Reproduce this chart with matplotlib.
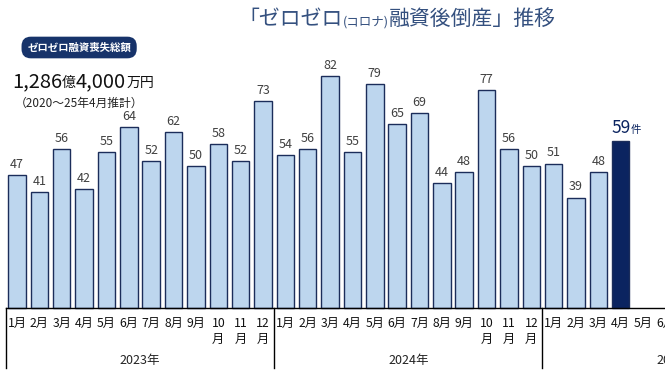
import matplotlib
matplotlib.use("Agg")
import matplotlib.pyplot as plt

plt.rcParams['font.family'] = ['Noto Sans CJK JP', 'DejaVu Sans']

# data
years = ["2023年", "2024年", "2025年"]
month_labels = ["1月", "2月", "3月", "4月", "5月", "6月", "7月", "8月", "9月",
                "10\n月", "11\n月", "12\n月"]
counts_2023 = [47, 41, 56, 42, 55, 64, 52, 62, 50, 58, 52, 73]
counts_2024 = [54, 56, 82, 55, 79, 65, 69, 44, 48, 77, 56, 50]
counts_2025 = [51, 39, 48, 59]
title_main = "「ゼロゼロ"
title_small = "(コロナ)"
title_rest = "融資後倒産」推移"
box_label = "ゼロゼロ融資喪失総額"
total_parts = [("1,286", 14.5), ("億", 10), ("4,000", 14.5), ("万円", 10)]
total_note = "（2020～25年4月推計）"

light = "#bdd6ee"
edge = "#1b2d5a"
navy = "#0b2460"
title_col = "#34507f"

values = counts_2023 + counts_2024 + counts_2025
xs = [i + 0.5 for i in range(len(values))]

fig = plt.figure(figsize=(6.65, 3.74), dpi=100)
ax = fig.add_axes([0, 0, 1, 1])
ax.set_xlim(-0.262, 29.48)
ax.set_ylim(-23.3, 108.8)
ax.axis("off")

colors = [light] * (len(values) - 1) + [navy]
ax.bar(xs, values, width=0.78, color=colors, edgecolor=edge, linewidth=1.0, zorder=2)

for x, v in zip(xs[:-1], values[:-1]):
    ax.annotate(str(v), (x, v), xytext=(0, 3), textcoords="offset points",
                ha="center", va="bottom", fontsize=9, color="#404040")

# latest month label
fig.canvas.draw()
r = fig.canvas.get_renderer()
t1 = ax.annotate(str(values[-1]), (xs[-1], values[-1]), xytext=(0, 3),
                 textcoords="offset points", ha="center", va="bottom",
                 fontsize=12.5, color=navy)
bb = t1.get_window_extent(r)
fig.text(bb.x1 / fig.bbox.width, bb.y0 / fig.bbox.height + 0.006, "件",
         fontsize=7.5, color=navy, ha="left", va="bottom")

# x axis
ax.axhline(0, xmin=0.0087, xmax=1, color="black", linewidth=1.0, zorder=3)
n_slots = 30
for y_i in range(len(years)):
    ax.plot([12 * y_i, 12 * y_i], [0, -21.3], color="black", linewidth=1.0,
            clip_on=False)
    for m in range(12):
        idx = 12 * y_i + m
        if idx >= n_slots:
            break
        ax.text(idx + 0.5, -3.0, month_labels[m], ha="center", va="top",
                fontsize=8.8, linespacing=1.3, color="#111111")
    ax.text(12 * y_i + 6, -18.4, years[y_i], ha="center", va="center",
            fontsize=9, color="#222222")

# title with mixed sizes
def draw_runs(runs, x0, y0, ha_center=False):
    objs = []
    x = x0
    for s, size, kw in runs:
        t = fig.text(x, y0, s, fontsize=size, va="baseline", ha="left", **kw)
        w = t.get_window_extent(r).width / fig.bbox.width
        objs.append(t)
        x += w
    if ha_center:
        total = x - x0
        for t in objs:
            px, py = t.get_position()
            t.set_position((px - total / 2, py))
    return objs

title_runs = [(title_main, 15, dict(color=title_col)),
              (title_small, 9, dict(color=title_col)),
              (title_rest, 15, dict(color=title_col))]
draw_runs(title_runs, 0.597, 0.932, ha_center=True)

fig.text(0.119, 0.873, box_label, fontsize=7.5, fontweight="bold", color="white",
         ha="center", va="center",
         bbox=dict(boxstyle="round,pad=0.55,rounding_size=0.9", fc="#17336a",
                   ec="none"))

draw_runs([(p, s, dict(color="#111111")) for p, s in total_parts], 0.018, 0.767)
fig.text(0.022, 0.74, total_note, fontsize=8.5, color="#222222",
         ha="left", va="top")

fig.savefig("out.png", dpi=100)
